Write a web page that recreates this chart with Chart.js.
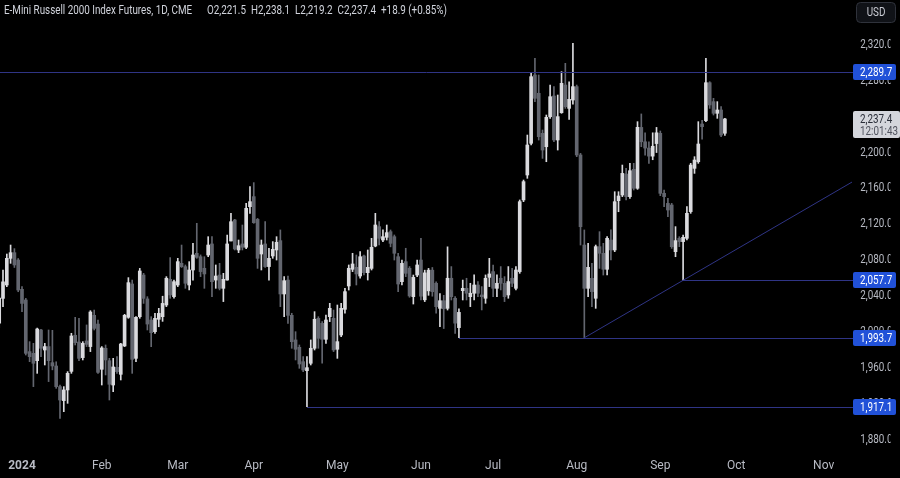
<!DOCTYPE html>
<html>
<head>
<meta charset="utf-8">
<script src="https://cdn.jsdelivr.net/npm/chart.js@4.4.1/dist/chart.umd.min.js"></script>
<style>
  html, body { margin: 0; padding: 0; background: #000; }
  #wrap { position: relative; width: 900px; height: 478px; }
</style>
</head>
<body>
<div id="wrap"><canvas id="chart" width="900" height="478"></canvas></div>
<script>
// daily bars, RTY continuous futures
const dates = [
  '2023-12-21','2023-12-22','2023-12-26','2023-12-27','2023-12-28','2023-12-29',
  '2024-01-02','2024-01-03','2024-01-04','2024-01-05','2024-01-08','2024-01-09','2024-01-10','2024-01-11','2024-01-12','2024-01-16','2024-01-17','2024-01-18','2024-01-19','2024-01-22','2024-01-23','2024-01-24','2024-01-25','2024-01-26','2024-01-29','2024-01-30','2024-01-31',
  '2024-02-01','2024-02-02','2024-02-05','2024-02-06','2024-02-07','2024-02-08','2024-02-09','2024-02-12','2024-02-13','2024-02-14','2024-02-15','2024-02-16','2024-02-20','2024-02-21','2024-02-22','2024-02-23','2024-02-26','2024-02-27','2024-02-28','2024-02-29',
  '2024-03-01','2024-03-04','2024-03-05','2024-03-06','2024-03-07','2024-03-08','2024-03-11','2024-03-12','2024-03-13','2024-03-14','2024-03-15','2024-03-18','2024-03-19','2024-03-20','2024-03-21','2024-03-22','2024-03-25','2024-03-26','2024-03-27','2024-03-28',
  '2024-04-01','2024-04-02','2024-04-03','2024-04-04','2024-04-05','2024-04-08','2024-04-09','2024-04-10','2024-04-11','2024-04-12','2024-04-15','2024-04-16','2024-04-17','2024-04-18','2024-04-19','2024-04-22','2024-04-23','2024-04-24','2024-04-25','2024-04-26','2024-04-29','2024-04-30',
  '2024-05-01','2024-05-02','2024-05-03','2024-05-06','2024-05-07','2024-05-08','2024-05-09','2024-05-10','2024-05-13','2024-05-14','2024-05-15','2024-05-16','2024-05-17','2024-05-20','2024-05-21','2024-05-22','2024-05-23','2024-05-24','2024-05-28','2024-05-29','2024-05-30','2024-05-31',
  '2024-06-03','2024-06-04','2024-06-05','2024-06-06','2024-06-07','2024-06-10','2024-06-11','2024-06-12','2024-06-13','2024-06-14','2024-06-17','2024-06-18','2024-06-20','2024-06-21','2024-06-24','2024-06-25','2024-06-26','2024-06-27','2024-06-28',
  '2024-07-01','2024-07-02','2024-07-03','2024-07-05','2024-07-08','2024-07-09','2024-07-10','2024-07-11','2024-07-12','2024-07-15','2024-07-16','2024-07-17','2024-07-18','2024-07-19','2024-07-22','2024-07-23','2024-07-24','2024-07-25','2024-07-26','2024-07-29','2024-07-30','2024-07-31',
  '2024-08-01','2024-08-02','2024-08-05','2024-08-06','2024-08-07','2024-08-08','2024-08-09','2024-08-12','2024-08-13','2024-08-14','2024-08-15','2024-08-16','2024-08-19','2024-08-20','2024-08-21','2024-08-22','2024-08-23','2024-08-26','2024-08-27','2024-08-28','2024-08-29','2024-08-30',
  '2024-09-03','2024-09-04','2024-09-05','2024-09-06','2024-09-09','2024-09-10','2024-09-11','2024-09-12','2024-09-13','2024-09-16','2024-09-17','2024-09-18','2024-09-19','2024-09-20','2024-09-23','2024-09-24','2024-09-25','2024-09-26'
];

const open = [
  2010,2037.6,2052.5,2082.2,2088.5,2080.3,
  2047.7,2035.8,1978.3,1976.4,1968.2,2002.4,1980.1,1983.9,1966,1962.3,1939.3,1923.7,1935.6,1956.3,1996.5,1989,1971.6,1990.2,1983.9,2018.7,2009,
  1958.6,1982,1968.2,1941.1,1960.8,1953,1984.6,2016.5,2053.6,1970.8,2017.2,2063.6,2037,2013.5,2000.5,2014.3,2017.2,2030.2,2058.8,2039.5,
  2052.5,2076.6,2072.9,2052.5,2069.2,2087.8,2084,2071.1,2085.9,2098.2,2058,2063.6,2048.8,2058,2101.5,2124.9,2091.5,2098.2,2094.5,2139.7,
  2150.9,2125.6,2087,2098.2,2073,2084.8,2091.5,2101.9,2042.5,2058,2018.7,1991.3,1983.1,1967.1,1957.1,1965.3,1982,2015.4,2009.8,1992,2017.2,2015.4,
  1980.9,1996.8,2025.4,2051.4,2070,2072.2,2062.5,2084.8,2066.2,2071,2095.9,2117.5,2102.6,2105.6,2111.9,2106.3,2084,2056.2,2078.5,2071.1,2039.5,2063.6,
  2080.3,2036,2046,2069,2054.4,2026.5,2035,2026.5,2060,2037.7,2005,2046.2,2048.8,2039.5,2043.3,2052.5,2041.4,2037.7,2061,
  2067.4,2048.8,2060,2054.4,2041.4,2060,2048.8,2067.4,2147.2,2175,2210.3,2286.4,2266,2221.4,2206.5,2239.9,2263,2214,2244.4,2275.2,2249.2,2258.5,
  2273.4,2197.3,2097,2048.8,2059.9,2037.7,2095.2,2087.8,2070,2102.6,2091.5,2146.4,2152.7,2176.1,2150.9,2181.3,2160.2,2228,2212,2205,2196,2210,
  2221.4,2154.6,2143.4,2141.6,2089.6,2104.5,2100.8,2104.5,2134.2,2182.4,2189.8,2231.8,2235.5,2277.8,2256.7,2243.7,2247.4,2221.5
];

const high = [
  2042,2069,2087,2097,2093,2082,
  2050.6,2037.6,1989.4,1987.5,2004.5,2003,1987.5,2002.4,2002,1967,1941,1939.3,1956,1998.7,2016.5,2015.4,1989.4,2008,2023.9,2024.6,2013.5,
  1983.9,1985.7,1970.8,1970.8,1972.7,1987.5,2019.8,2060.7,2058,2017.2,2071,2065.5,2039.5,2017.2,2021,2026.5,2040,2061.8,2083,2058,
  2082.2,2097,2074.8,2078.5,2098.9,2121.2,2086,2084,2106.3,2106.3,2074.8,2076.6,2065.5,2108.2,2132.3,2125.6,2102.6,2119.3,2143.5,2162,
  2166.5,2126.7,2102.6,2123,2093.4,2100.8,2106.3,2113.8,2061.8,2062.5,2021,2000.5,1985.7,1972.7,1972.7,1991.3,2022.8,2017.2,2011.7,2019,2032.1,2024.6,
  2030.2,2032,2048.8,2074.8,2087.8,2085.9,2089.6,2085.9,2091.5,2104.5,2132.3,2123,2113.8,2119.3,2113.8,2108.2,2087.8,2080.3,2093.4,2073,2063.6,2080.3,
  2104.5,2069,2071,2072,2056,2043,2041,2095,2073,2039.5,2026,2058,2060,2054.4,2063.7,2056.3,2050.7,2063.7,2082.2,
  2074.8,2063.7,2073,2061.8,2073,2071,2073,2147.2,2169.4,2219.5,2288.2,2304.9,2286.4,2225.1,2241.8,2275.2,2273.4,2264.1,2290.1,2299.4,2278.9,2321.6,
  2275.2,2199.1,2113.8,2098.9,2076.6,2097,2111.9,2098.9,2106.3,2113.8,2156.4,2156.4,2186.1,2182.4,2188,2188,2234.4,2243,2222,2212,2222,2228,
  2224,2158.3,2149,2143.4,2117.5,2106.3,2108.2,2139.7,2188,2195.4,2234.4,2236,2304.9,2278.9,2260.4,2256.7,2251.1,2238.1
];

const low = [
  2005,2028.4,2050.6,2076.6,2072,2045,
  2022.8,1974.5,1967.1,1939.3,1954.1,1972.7,1963.4,1944.9,1958,1937.4,1904,1911.4,1920.7,1954.1,1985.7,1968.2,1969,1983.9,1978.3,2002.4,1954.1,
  1941.1,1952.3,1924.4,1933.7,1954.1,1946.7,1983.9,2015.4,1954.1,1967.1,2015.4,2032,2002.4,1983.8,1998.7,2006,2012,2028.4,2037.7,2037.7,
  2050.7,2072,2048.8,2047,2058,2082.2,2061.8,2048.8,2084,2039.5,2048.8,2047,2034,2058,2101.5,2091.5,2088.5,2091.5,2093,2132.3,
  2121.2,2071,2069.2,2072.2,2058,2082.2,2080.3,2028.4,2017.2,2009.8,1982,1969,1959.7,1956,1917.1,1963.4,1980.1,1982,1965.3,1987.5,2011.7,1978.3,
  1970.8,1995,2021,2046.9,2067.4,2052.5,2060,2063.6,2058,2069.2,2095,2097,2100.8,2102.6,2095,2080.3,2045.1,2052.5,2061.8,2038.8,2031.3,2061.8,
  2035.8,2034,2041,2040,2021,2006,2004,2024.6,2035.8,1998.7,1993.7,2035.8,2035.8,2028.4,2035.8,2039.5,2024.7,2032.1,2050.7,
  2039.5,2039.5,2047,2034,2037.7,2050.7,2047,2065.5,2145.3,2171.3,2208.4,2256.7,2213.9,2193.5,2189.8,2238.1,2212.1,2202.8,2243.7,2249.2,2237,2254,
  2195.4,2097,1993.7,2039.5,2028.4,2026.5,2071,2063.6,2063.6,2080.3,2089.6,2134.1,2150.9,2147.2,2149,2158.3,2159,2206.5,2197,2188,2192,2200,
  2152,2139.7,2128.6,2093.3,2084,2095.2,2057.7,2102.6,2132.3,2176.8,2188,2215,2234.4,2249.2,2241.8,2238.1,2217.7,2219.2
];

const close = [
  2038,2056,2082.2,2088.5,2074.8,2046.9,
  2032,1976.4,1972.7,1965.3,2003.5,1982,1983.9,1968.2,1962.3,1939.3,1924.4,1935.6,1954.1,1995.7,1988.3,1970.8,1987.5,1986.4,2022.4,2004.2,1955.2,
  1982.4,1969,1941.9,1961.2,1956,1986.8,2018.7,2055.1,1969.7,2016.5,2068.1,2037.6,2009,1999.4,2015.4,2020.9,2032,2060,2041.4,2056.2,
  2078.5,2072.9,2054.4,2069.2,2085.9,2083.3,2067.4,2064.8,2097,2056.2,2062.5,2048.8,2058.8,2098.2,2123,2092.6,2096.3,2094.5,2137.9,2145.3,
  2121.9,2082.2,2097,2073,2082.2,2092.2,2100,2042.5,2057.3,2018.7,1989.4,1980.9,1964.5,1957.8,1960.4,1982,2014.3,1993.1,1992,2013.5,2026.5,1980.1,
  1989.4,2026.5,2045.1,2071.1,2075.9,2064.8,2084,2066.2,2072.2,2094.5,2119.3,2104.5,2106.3,2110.8,2098.9,2087.8,2053.6,2076.6,2065.5,2040.3,2061,2074.8,
  2040,2066,2069,2045,2028.4,2035,2026,2060,2039.5,2010,2022,2048.8,2043.3,2043.3,2052.5,2043.3,2039.5,2060,2064.8,
  2048.8,2054.4,2054.4,2039.5,2056.3,2054.4,2069.2,2145.3,2167.6,2208.4,2284.5,2260.4,2217.7,2202.8,2239.2,2262.2,2214,2240,2277.1,2251.1,2259.3,2273.4,
  2197.3,2117.4,2048.8,2072.2,2045.1,2095.2,2087.8,2070,2104.5,2091.5,2145.3,2151.6,2176.8,2150.9,2179.8,2160.2,2228.1,2212,2205,2196,2207,2222,
  2154.6,2150.9,2136,2095.2,2101.9,2100.8,2105.6,2132.3,2186.1,2191.7,2209.5,2228.8,2277.8,2253,2243.7,2247.4,2219.5,2237.4
];

// time axis: bar slot of each month label (Oct/Nov lie in the empty future area)
const monthTicks = [6, 27, 47, 67, 89, 111, 130, 152, 174, 194, 217];
const monthLabels = ['2024', 'Feb', 'Mar', 'Apr', 'May', 'Jun', 'Jul', 'Aug', 'Sep', 'Oct', 'Nov'];
const priceTicks = [1880, 1920, 1960, 2000, 2040, 2080, 2120, 2160, 2200, 2240, 2280, 2320];

// horizontal levels and the bar each one starts from (null = from the left edge)
const levels = [2289.7, 2057.7, 1993.7, 1917.1];
const levelFrom = [null, 180, 121, 81];
// rising trendline through the Aug 5 and Sep 11 lows
const trendA = [154, 1993.7];
const trendB = [180, 2057.7];

const lastPrice = 2237.4;
const countdown = '12:01:43';
const titleName = 'E-Mini Russell 2000 Index Futures, 1D, CME';
const titleVals = ['O2,221.5', 'H2,238.1', 'L2,219.2', 'C2,237.4', '+18.9 (+0.85%)'];

const FONT = "Roboto, 'Liberation Sans', sans-serif";
const SQ = 0.82;   // the screenshot is squeezed sideways, so is the text
const UP = '#dadade';
const DOWN = '#63666f';
const LINE = '#2f3485';
const TAG = '#2151d8';
const TXT = '#b8bbc4';

const fmt = v => v.toLocaleString('en-US', { minimumFractionDigits: 1, maximumFractionDigits: 1 });
const colors = close.map((c, i) => c >= open[i] ? UP : DOWN);

function squeezed(ctx, text, x, y, align) {
  ctx.save();
  ctx.translate(x, y);
  ctx.scale(SQ, 1);
  ctx.textAlign = align || 'left';
  ctx.fillText(text, 0, 0);
  ctx.restore();
}

const overlay = {
  id: 'overlay',
  afterDatasetsDraw(chart) {
    const { ctx, chartArea: a, scales: { x, y } } = chart;
    ctx.save();
    ctx.strokeStyle = LINE;
    ctx.lineWidth = 1;
    levels.forEach((v, k) => {
      const py = Math.round(y.getPixelForValue(v)) + 0.5;
      const px = levelFrom[k] === null ? a.left : x.getPixelForValue(levelFrom[k]);
      ctx.beginPath();
      ctx.moveTo(px, py);
      ctx.lineTo(a.right + 5, py);
      ctx.stroke();
    });
    const x1 = x.getPixelForValue(trendA[0]), y1 = y.getPixelForValue(trendA[1]);
    const x2 = x.getPixelForValue(trendB[0]), y2 = y.getPixelForValue(trendB[1]);
    const xe = a.right + 4;
    const ye = y1 + (y2 - y1) * (xe - x1) / (x2 - x1);
    ctx.beginPath();
    ctx.moveTo(x1, y1);
    ctx.lineTo(xe, ye);
    ctx.stroke();
    ctx.restore();
  },
  afterDraw(chart) {
    const { ctx, chartArea: a, scales: { y } } = chart;
    ctx.save();
    ctx.font = '12px ' + FONT;
    ctx.textBaseline = 'middle';

    // blue level tags on the price scale
    levels.forEach(v => {
      const py = Math.round(y.getPixelForValue(v));
      ctx.fillStyle = TAG;
      ctx.beginPath();
      ctx.roundRect(a.right + 5, py - 8, 43, 16, 2);
      ctx.fill();
      ctx.fillStyle = '#ffffff';
      squeezed(ctx, fmt(v), a.right + 12, py + 0.5);
    });

    // last price tag with countdown
    const lp = Math.round(y.getPixelForValue(lastPrice));
    ctx.fillStyle = '#d4d6dc';
    ctx.beginPath();
    ctx.roundRect(a.right + 5, lp - 8, 47, 27, 2);
    ctx.fill();
    ctx.fillStyle = '#2a2e39';
    squeezed(ctx, fmt(lastPrice), a.right + 12, lp + 0.5);
    ctx.fillStyle = '#50535e';
    squeezed(ctx, countdown, a.right + 12, lp + 12.5);

    // currency button
    ctx.fillStyle = '#101217';
    ctx.strokeStyle = '#2f323b';
    ctx.beginPath();
    ctx.roundRect(856.5, 2.5, 39, 20, 4);
    ctx.fill();
    ctx.stroke();
    ctx.fillStyle = '#c8cad2';
    squeezed(ctx, 'USD', 876, 13, 'center');

    // legend line
    ctx.fillStyle = '#d1d4dc';
    squeezed(ctx, titleName, 4, 11);
    const widths = titleVals.map(t => ctx.measureText(t).width * SQ);
    const gap = (447 - 207 - widths.reduce((s, w) => s + w, 0)) / (titleVals.length - 1);
    let tx = 207;
    titleVals.forEach((t, k) => {
      squeezed(ctx, t, tx, 11);
      tx += widths[k] + gap;
    });
    ctx.restore();
  }
};

new Chart(document.getElementById('chart'), {
  type: 'bar',
  data: {
    datasets: [
      {
        label: 'wick',
        data: dates.map((d, i) => ({ x: i, y: [low[i], high[i]] })),
        backgroundColor: colors,
        barThickness: 1,
        grouped: false,
        order: 2
      },
      {
        label: 'body',
        data: dates.map((d, i) => ({ x: i, y: [open[i], close[i]] })),
        backgroundColor: colors,
        barThickness: 3,
        minBarLength: 1,
        grouped: false,
        order: 1
      }
    ]
  },
  options: {
    responsive: false,
    animation: false,
    devicePixelRatio: 1,
    layout: { padding: 0 },
    plugins: { legend: { display: false }, tooltip: { enabled: false } },
    scales: {
      x: {
        type: 'linear',
        min: 0.21,
        max: 223.4,
        offset: false,
        grid: { display: false, drawTicks: false },
        border: { display: false },
        afterFit: s => { s.height = 26; s.paddingLeft = 0; s.paddingRight = 0; },
        afterBuildTicks: s => { s.ticks = monthTicks.map(v => ({ value: v })); },
        ticks: {
          autoSkip: false,
          maxRotation: 0,
          padding: 7,
          color: TXT,
          font: c => ({ family: FONT, size: 12, weight: c.tick && c.tick.value === 6 ? 'bold' : 'normal' }),
          callback: v => monthLabels[monthTicks.indexOf(v)]
        }
      },
      y: {
        position: 'right',
        min: 1866.5,
        max: 2369.9,
        grid: { display: false, drawTicks: false },
        border: { display: false },
        afterFit: s => { s.width = 52; s.paddingTop = 0; s.paddingBottom = 0; },
        afterBuildTicks: s => { s.ticks = priceTicks.map(v => ({ value: v })); },
        afterUpdate: s => {
          // squeeze the price labels the same way as the rest of the text
          if (s._squeezed) return;
          s._squeezed = true;
          const draw = s.drawLabels;
          s.drawLabels = function (area) {
            const c = this.ctx;
            c.save();
            c.translate(this.left, 0);
            c.scale(SQ, 1);
            c.translate(-this.left, 0);
            draw.call(this, area);
            c.restore();
          };
        },
        ticks: {
          padding: 15,
          color: TXT,
          font: { family: FONT, size: 12 },
          callback: v => fmt(v)
        }
      }
    }
  },
  plugins: [overlay]
});
</script>
</body>
</html>
